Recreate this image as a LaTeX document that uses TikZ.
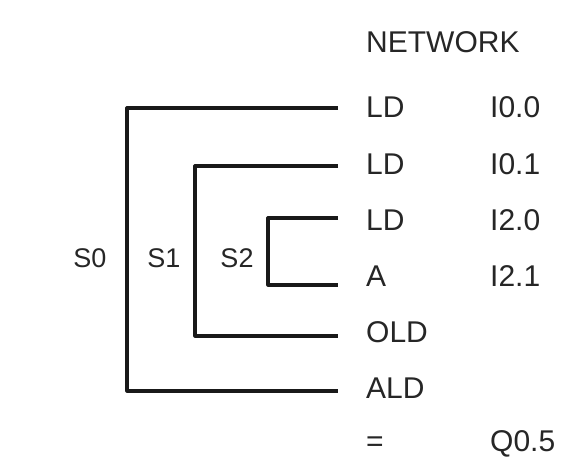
\documentclass[tikz,border=0pt]{standalone}
\usepackage{fontspec}
\setmainfont{Liberation Sans}
\begin{document}
\begin{tikzpicture}[x=1pt,y=-1pt,line join=round,line cap=butt,
	instr/.style={anchor=west,inner sep=0pt,text height=21.5pt,text depth=0pt,
		font=\fontsize{30}{36}\selectfont,text=black!85},
	slabel/.style={inner sep=0pt,text height=19pt,text depth=0pt,
		font=\fontsize{27}{32}\selectfont,text=black!85},
	bracket/.style={line width=3.2pt,black!90}]
			% --- Khung hình ---
			\useasboundingbox (0,0) rectangle (561,470);
			% --- Cột lệnh ---
			\def\xm{366} \def\xo{490}
			\node[instr] (net) at (\xm,42) {NETWORK};
			\node[instr] (m1) at (\xm,107) {LD};  \node[instr] (o1) at (\xo,107) {I0.0};
			\node[instr] (m2) at (\xm,164) {LD};  \node[instr] (o2) at (\xo,164) {I0.1};
			\node[instr] (m3) at (\xm,220) {LD};  \node[instr] (o3) at (\xo,220) {I2.0};
			\node[instr] (m4) at (\xm,276) {A};   \node[instr] (o4) at (\xo,276) {I2.1};
			\node[instr] (m5) at (\xm,332) {OLD};
			\node[instr] (m6) at (\xm,388) {ALD};
			\node[instr] (m7) at (\xm,441) {=};   \node[instr] (o7) at (\xo,441) {Q0.5};
			% --- Đầu mút các đường ---
			\def\xe{338}
			\coordinate (r1) at (\xe,108);
			\coordinate (r2) at (\xe,166);
			\coordinate (r3) at (\xe,218);
			\coordinate (r4) at (\xe,285);
			\coordinate (r5) at (\xe,336);
			\coordinate (r6) at (\xe,391);
			\coordinate (b0) at (127,0);
			\coordinate (b1) at (195,0);
			\coordinate (b2) at (268,0);
			% --- Các khối ngoặc ---
			\draw[bracket] (r1)--(r1-|b0)--(r6-|b0)--(r6);
			\draw[bracket] (r2)--(r2-|b1)--(r5-|b1)--(r5);
			\draw[bracket] (r3)--(r3-|b2)--(r4-|b2)--(r4);
			% --- Nhãn ---
			\node[slabel] (s0) at (90,258) {S0};
			\node[slabel] (s1) at (164,258) {S1};
			\node[slabel] (s2) at (237,258) {S2};
		\end{tikzpicture}
\end{document}
